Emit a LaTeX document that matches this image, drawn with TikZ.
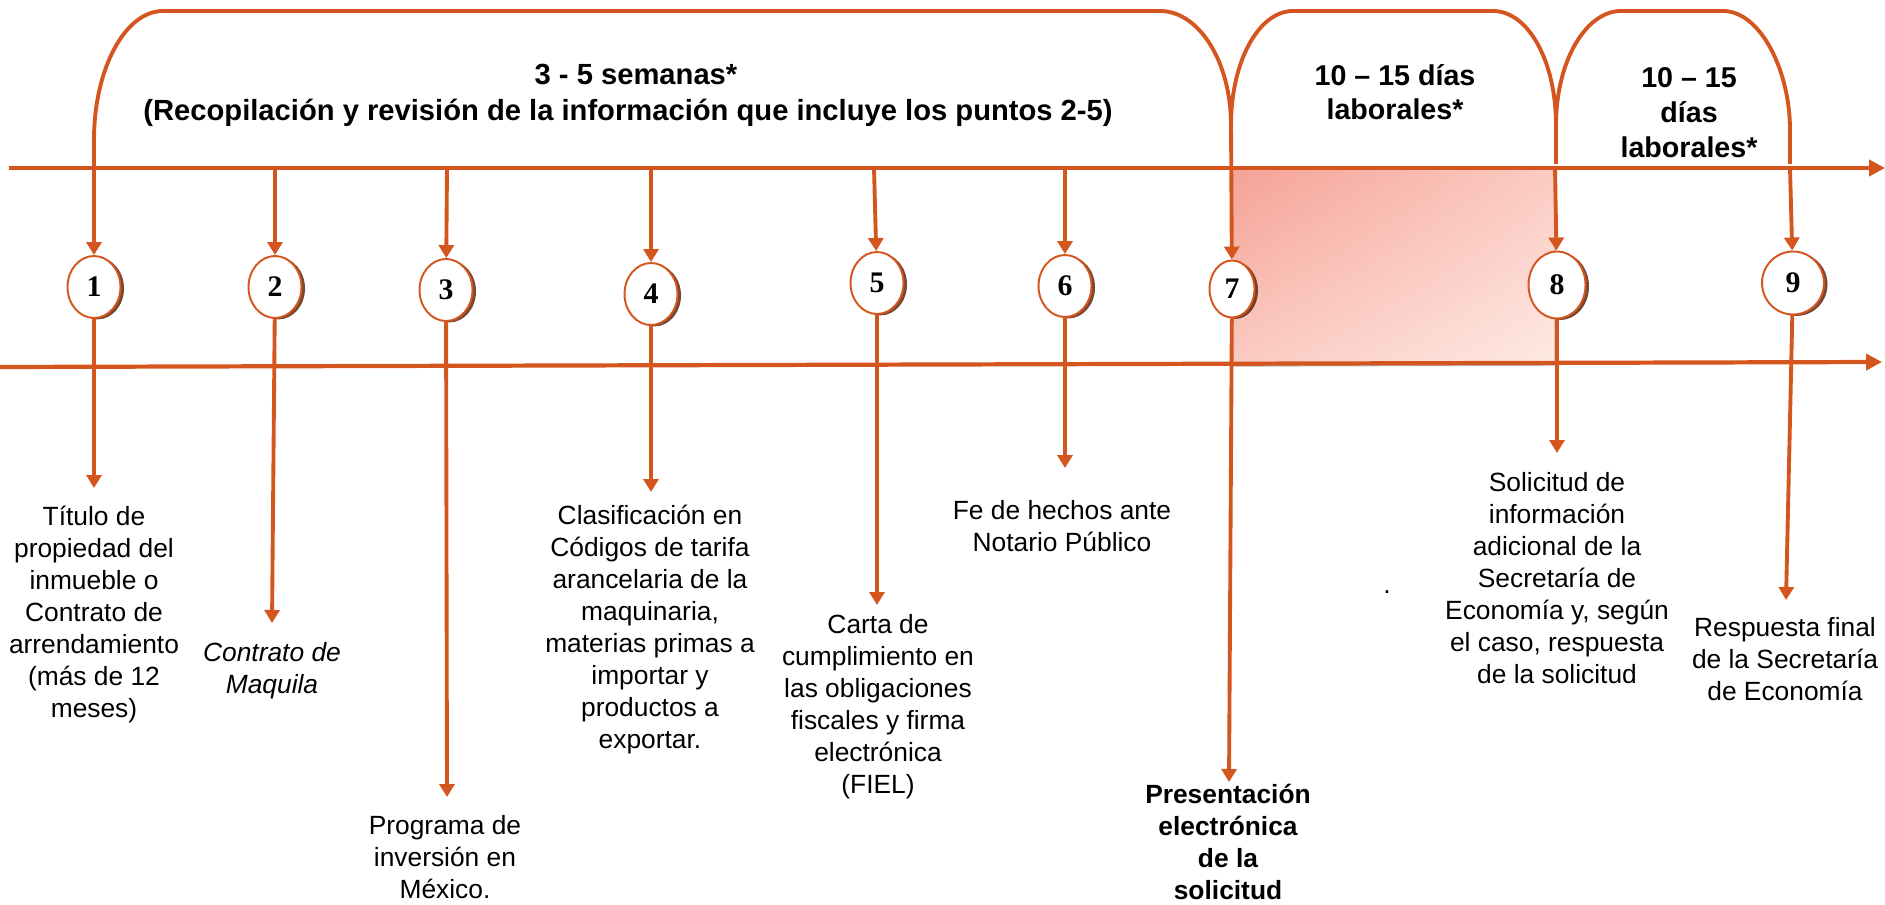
\documentclass[tikz,border=0pt]{standalone}
\usepackage{fontspec}
\setmainfont{Liberation Sans}
\newfontfamily\numfont{Liberation Serif}
\definecolor{timeline}{RGB}{212,85,30}
\definecolor{rim}{RGB}{95,40,15}
\definecolor{shadea}{RGB}{245,162,150}
\definecolor{shadeb}{RGB}{251,203,194}
\definecolor{shadec}{RGB}{254,234,228}
\usetikzlibrary{arrows.meta,shapes,shadows,shadings}
\tikzstyle{stage}=[ellipse,draw=timeline,line width=1.1pt,fill=white,minimum width=1.06cm,minimum height=1.24cm,inner sep=0pt,font=\numfont\bfseries\fontsize{17}{18}\selectfont,drop shadow={shadow xshift=2pt,shadow yshift=-0.8pt,fill=rim,opacity=0.85}]
\tikzstyle{link}=[draw=timeline,line width=2.2pt,-{Triangle[length=0.26cm,width=0.3cm]}]
\tikzstyle{timeaxis}=[draw=timeline,line width=2.4pt,-{Triangle[length=0.32cm,width=0.32cm]}]
\tikzstyle{period}=[draw=timeline,line width=2.2pt]
\tikzstyle{note}=[align=center,inner sep=0pt,anchor=north,font=\fontsize{15}{18.2}\selectfont]
\tikzstyle{head}=[align=center,inner sep=0pt,anchor=north,font=\bfseries\fontsize{16.6}{20.5}\selectfont]

\begin{document}
\begin{tikzpicture}[x=0.02cm,y=-0.02cm]
\useasboundingbox (0,0) rectangle (1885,905);

            \shade[upper left=shadea,upper right=shadeb,lower left=shadeb,lower right=shadec] (1233,170) rectangle (1555,365);
            \draw[gray!55,line width=0.8pt] (1555,171) -- (1555,365) -- (1233,366);

            \coordinate (s0) at (9,168);
            \coordinate (e0) at (1885,168);
            \coordinate (s1) at (0,367);
            \coordinate (e1) at (1882,362);
            \path[timeaxis] (s0) -- (e0);
            \path[timeaxis] (s1) -- (e1);

            \path[period] (94,168) -- (94,140) .. controls (94,69) and (125,11) .. (163,11) -- (1160,11) .. controls (1199,11) and (1231,62) .. (1231,125);
            \path[period] (1231,125) .. controls (1231,61) and (1259,11) .. (1293,11) -- (1493,11) .. controls (1528,11) and (1556,61) .. (1556,125) -- (1556,164);
            \path[period] (1556,125) .. controls (1556,61) and (1586,11) .. (1621,11) -- (1723,11) .. controls (1760,11) and (1790,70) .. (1790,130) -- (1790,164);

            \node[head] (h1) at (628,64) {\hspace*{0.32cm}3 - 5 semanas*\\(Recopilación y revisión de la información que incluye los puntos 2-5)};
            \node[head,font=\bfseries\fontsize{16.3}{19.3}\selectfont] (h2) at (1395,64) {10 – 15 días\\laborales*};
            \node[head,font=\bfseries\fontsize{16.3}{19.9}\selectfont] (h3) at (1689,67) {10 – 15\\días\\laborales*};

            \node[stage] (1) at (94,287) {1};
            \node[stage] (2) at (275,287) {2};
            \node[stage] (3) at (446,290) {3};
            \node[stage] (4) at (651,294) {4};
            \node[stage] (5) at (877,283) {5};
            \node[stage] (6) at (1065,286) {6};
            \node[stage,minimum width=0.9cm,minimum height=1.14cm] (7) at (1232,289) {7};
            \node[stage,minimum width=1.14cm,minimum height=1.34cm] (8) at (1557,285) {8};
            \node[stage,minimum width=1.24cm,minimum height=1.26cm] (9) at (1793,283) {9};

            \coordinate (a1) at (94,168);
            \coordinate (a2) at (275,168);
            \coordinate (a3) at (447,168);
            \coordinate (a4) at (651,168);
            \coordinate (a5) at (874,168);
            \coordinate (a6) at (1065,168);
            \coordinate (a7) at (1231,125);
            \coordinate (a8) at (1555,168);
            \coordinate (a9) at (1790,168);

            \coordinate (b1) at (94,488);
            \coordinate (b2) at (272,623);
            \coordinate (b3) at (447,797);
            \coordinate (b4) at (651,492);
            \coordinate (b5) at (877,605);
            \coordinate (b6) at (1065,468);
            \coordinate (b7) at (1229,782);
            \coordinate (b8) at (1557,453);
            \coordinate (b9) at (1786,600);

            \path[link] (a1) -- (1);
            \path[link] (a2) -- (2);
            \path[link] (a3) -- (3);
            \path[link] (a4) -- (4);
            \path[link] (a5) -- (5);
            \path[link] (a6) -- (6);
            \path[link] (a7) -- (7);
            \path[link] (a8) -- (8);
            \path[link] (a9) -- (9);

            \path[link] (1) -- (b1);
            \path[link] (2) -- (b2);
            \path[link] (3) -- (b3);
            \path[link] (4) -- (b4);
            \path[link] (5) -- (b5);
            \path[link] (6) -- (b6);
            \path[link] (7) -- (b7);
            \path[link] (8) -- (b8);
            \path[link] (9) -- (b9);

            \node[note] (l1) at (94,506) {Título de\\propiedad del\\inmueble o\\Contrato de\\arrendamiento\\(más de 12\\meses)};
            \node[note,font=\itshape\fontsize{15}{18.2}\selectfont] (l2) at (272,642) {Contrato de\\Maquila};
            \node[note] (l3) at (445,815) {Programa de\\inversión en\\México.};
            \node[note] (l4) at (650,505) {Clasificación en\\Códigos de tarifa\\arancelaria de la\\maquinaria,\\materias primas a\\importar y\\productos a\\exportar.};
            \node[note] (l5) at (878,614) {Carta de\\cumplimiento en\\las obligaciones\\fiscales y firma\\electrónica\\(FIEL)};
            \node[note] (l6) at (1062,500) {Fe de hechos ante\\Notario Público};
            \node[note,font=\bfseries\fontsize{15}{18.2}\selectfont] (l7) at (1228,784) {Presentación\\electrónica\\de la\\solicitud};
            \node[note] (l8) at (1557,472) {Solicitud de\\información\\adicional de la\\Secretaría de\\Economía y, según\\el caso, respuesta\\de la solicitud};
            \node[note] (l9) at (1785,617) {Respuesta final\\de la Secretaría\\de Economía};
            \node[note,anchor=center] (dot) at (1387,592) {.};

        \end{tikzpicture}
\end{document}
